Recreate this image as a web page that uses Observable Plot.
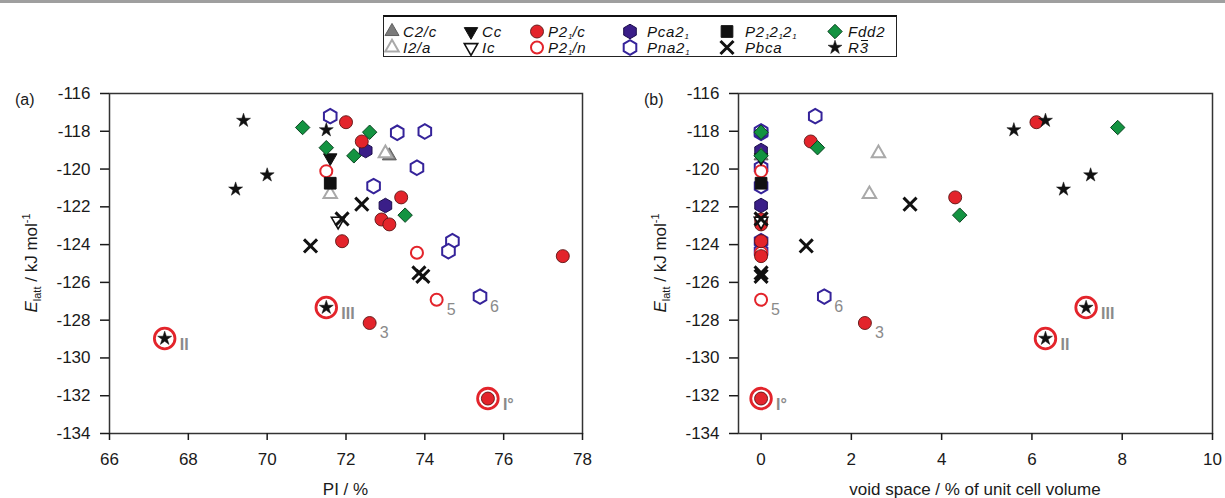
<!DOCTYPE html>
<html><head><meta charset="utf-8">
<script src="https://cdn.jsdelivr.net/npm/d3@7"></script>
<script src="https://cdn.jsdelivr.net/npm/@observablehq/plot@0.6"></script>
<style>
html,body{margin:0;padding:0;background:#fff;}
body{width:1225px;height:498px;position:relative;overflow:hidden;font-family:"Liberation Sans",Arial,sans-serif;}
#topbar{position:absolute;left:0;top:0;width:1225px;height:3px;background:#9f9f9f;}
#legendbox{position:absolute;left:383px;top:15px;width:514px;height:42px;border:1px solid #222;border-top:2px solid #111;box-sizing:border-box;}
.li{position:absolute;height:15px;line-height:15px;display:flex;align-items:center;font-style:italic;font-size:15px;color:#111;white-space:nowrap;letter-spacing:0.8px;}
.li svg{flex:none;overflow:visible;}
.li sub{font-size:8px;vertical-align:-2px;letter-spacing:0;line-height:0;}
.ob{position:relative;}
.ob .bar{position:absolute;left:1.5px;right:0.5px;top:1.5px;height:0;border-top:1.4px solid #111;}
#pa{position:absolute;left:0;top:63px;}
#pb{position:absolute;left:612px;top:63px;}
</style>
</head><body>
<div id="topbar"></div>
<div id="legendbox"></div>
<div id="legend"></div>
<div id="pa"></div>
<div id="pb"></div>
<script>
// ---------- data ----------
const legendGroups = ["C2/c","I2/a","Cc","Ic","P21/c","P21/n","Pca21","Pna21","P212121","Pbca","Fdd2","R-3"];
const legendLabels = ["C2/c","I2/a","Cc","Ic","P2<sub>1</sub>/c","P2<sub>1</sub>/n","Pca2<sub>1</sub>","Pna2<sub>1</sub>","P2<sub>1</sub>2<sub>1</sub>2<sub>1</sub>","Pbca","Fdd2","R<span class='ob'>3<span class='bar'></span></span>"];

const spaceGroup = ["R-3","R-3","R-3","R-3","R-3","R-3",
  "Fdd2","Fdd2","Fdd2","Fdd2","Fdd2",
  "Pna21","Pna21","Pna21","Pna21","Pna21","Pna21","Pna21","Pna21",
  "P21/c","P21/c","P21/c","P21/c","P21/c","P21/c","P21/c","P21/c","P21/c",
  "Pca21","Pca21","Cc","P212121","P21/n","P21/n","P21/n","Ic",
  "Pbca","Pbca","Pbca","Pbca","Pbca","C2/c","I2/a","I2/a"];
const packingIndex = [69.4,71.5,70.0,69.2,67.4,71.5,
  70.9,72.6,71.5,72.2,73.5,
  71.6,73.3,74.0,73.8,72.7,74.7,74.6,75.4,
  72.0,72.4,73.4,72.9,73.1,71.9,77.5,72.6,75.6,
  72.5,73.0,71.6,71.6,71.5,73.8,74.3,71.8,
  71.9,72.4,71.1,73.85,73.95,73.1,73.0,71.6];
const voidSpace = [6.3,5.6,7.3,6.7,6.3,7.2,
  7.9,0,1.25,0,4.4,
  1.2,0,0,0,0,0,0,1.4,
  6.1,1.1,4.3,0,0,0,0,2.3,0,
  0,0,0,0,0,0,0,0,
  0,3.3,1.0,0,0,0,2.6,2.4];
const latticeEnergy = [-117.43,-117.93,-120.32,-121.07,-128.97,-127.33,
  -117.8,-118.05,-118.87,-119.3,-122.44,
  -117.2,-118.08,-118.01,-119.93,-120.9,-123.82,-124.35,-126.75,
  -117.52,-118.54,-121.5,-122.67,-122.93,-123.82,-124.61,-128.15,-132.15,
  -119.02,-121.93,-119.4,-120.75,-120.11,-124.43,-126.92,-122.76,
  -122.64,-121.86,-124.07,-125.5,-125.68,-119.3,-119.17,-121.33];
const pointLabel = ["","","","","II","III",
  "","","","","",
  "","","","","","","","6",
  "","","","","","","","3","I°",
  "","","","","","","5","",
  "","","","","","","",""];
const ringedLabels = ["I°","II","III"];
const xTicksA = [66,68,70,72,74,76,78];
const xTicksB = [0,2,4,6,8,10];
const yTicks = [-134,-132,-130,-128,-126,-124,-122,-120,-118,-116];

// ---------- styles ----------
const sqrt3 = Math.sqrt(3);
const triangleDown = {draw(ctx, size){ const y = Math.sqrt(size/(sqrt3*3)); ctx.moveTo(0, 2*y); ctx.lineTo(-sqrt3*y, -y); ctx.lineTo(sqrt3*y, -y); ctx.closePath(); }};
const hexagon = {draw(ctx, size){ const rx = Math.sqrt(size/Math.PI), ry = rx*2/sqrt3, hy = ry/2;
  ctx.moveTo(0, ry); ctx.lineTo(rx, hy); ctx.lineTo(rx, -hy); ctx.lineTo(0, -ry); ctx.lineTo(-rx, -hy); ctx.lineTo(-rx, hy); ctx.closePath(); }};
const RED = "#e3242b";
const groupStyle = {
  "C2/c":   {symbol:d3.symbolTriangle, r:5.2, fill:"#7b7b7b", stroke:"#5e5e5e", strokeWidth:1},
  "I2/a":   {symbol:d3.symbolTriangle, r:5.0, fill:"white", stroke:"#a9a9a9", strokeWidth:2},
  "Cc":     {symbol:triangleDown, r:5.0, fill:"#111", stroke:"#111", strokeWidth:1},
  "Ic":     {symbol:triangleDown, r:5.0, fill:"white", stroke:"#111", strokeWidth:1.6},
  "P21/c":  {symbol:d3.symbolCircle, r:6.5, fill:RED, stroke:"#5c1414", strokeWidth:0.9},
  "P21/n":  {symbol:d3.symbolCircle, r:6.0, fill:"white", stroke:RED, strokeWidth:2},
  "Pca21":  {symbol:hexagon, r:6.3, fill:"#3a1e88", stroke:"#1d0f4d", strokeWidth:1},
  "Pna21":  {symbol:hexagon, r:6.3, fill:"white", stroke:"#35239a", strokeWidth:2},
  "P212121":{symbol:d3.symbolSquare, r:6.6, fill:"#111", stroke:"#111", strokeWidth:1},
  "Pbca":   {symbol:d3.symbolX, r:6.0, fill:"none", stroke:"#111", strokeWidth:3},
  "Fdd2":   {symbol:d3.symbolDiamond2, r:6.5, fill:"#139341", stroke:"#0b4522", strokeWidth:1},
  "R-3":    {symbol:d3.symbolStar, r:4.4, fill:"#111", stroke:"#111", strokeWidth:0.5}
};
const drawOrder = ["Pna21","Pca21","P21/n","P21/c","C2/c","I2/a","Ic","Cc","P212121","Fdd2","Pbca","R-3"];

const data = spaceGroup.map((g, i) => ({group: g, pi: packingIndex[i], vs: voidSpace[i], e: latticeEnergy[i], label: pointLabel[i]}));

// ---------- legend ----------
const legendCols = [392, 471, 537, 630, 727, 835];
const legendTextGap = [3, 3, 3, 9, 10, 5];
const legendRows = [31, 47];
const legendOrder = [["C2/c","I2/a"],["Cc","Ic"],["P21/c","P21/n"],["Pca21","Pna21"],["P212121","Pbca"],["Fdd2","R-3"]];
const legendDiv = d3.select("#legend");
legendOrder.forEach((pair, c) => pair.forEach((g, r) => {
  const st = groupStyle[g];
  const item = legendDiv.append("div").attr("class","li")
    .style("left", (legendCols[c]-8)+"px").style("top", (legendRows[r]-7.5)+"px");
  const svg = item.append("svg").attr("width",16).attr("height",15);
  svg.append("path").attr("transform","translate(8,7.5)")
    .attr("d", d3.symbol(st.symbol, st.r*st.r*Math.PI)())
    .attr("fill", st.fill).attr("stroke", st.stroke).attr("stroke-width", st.strokeWidth);
  item.append("span").style("margin-left", legendTextGap[c]+"px").html(legendLabels[legendGroups.indexOf(g)]);
}));

// ---------- panels ----------
function panel(xKey, xDomain, xTicks, width, mLeft, mRight, tag, xLabel) {
  const marks = [
    Plot.frame({stroke:"#333", strokeWidth:1.5}),
    Plot.axisX({ticks:xTicks, tickSize:7, tickPadding:12, tickFormat:d=>String(d), label:null, strokeWidth:1.5}),
    Plot.axisY({ticks:yTicks, tickSize:9, tickPadding:10, tickFormat:d=>String(d), label:null, strokeWidth:1.5}),
    Plot.dot(data.filter(d => ringedLabels.includes(d.label)), {x:xKey, y:"e", r:10.3, fill:"white", stroke:RED, strokeWidth:2.8})
  ];
  for (const g of drawOrder) {
    const st = groupStyle[g];
    marks.push(Plot.dot(data.filter(d => d.group === g), {x:xKey, y:"e", symbol:st.symbol, r:st.r, fill:st.fill, stroke:st.stroke, strokeWidth:st.strokeWidth}));
  }
  marks.push(Plot.text(data.filter(d => ringedLabels.includes(d.label)), {x:xKey, y:"e", text:"label", dx:15, dy:6, textAnchor:"start", fill:"#8a8a8a", fontWeight:"bold", fontSize:16}));
  marks.push(Plot.text(data.filter(d => d.label && !ringedLabels.includes(d.label)), {x:xKey, y:"e", text:"label", dx:10, dy:10, textAnchor:"start", fill:"#8a8a8a", fontSize:16}));
  const chart = Plot.plot({
    width, height:435, marginLeft:mLeft, marginRight:mRight, marginTop:30, marginBottom:65,
    x:{domain:xDomain}, y:{domain:[-134,-116]},
    style:{background:"transparent", fontFamily:"'Liberation Sans', Arial, sans-serif", fontSize:"17px", color:"#1a1a1a", overflow:"visible"},
    marks
  });
  const svg = d3.select(chart);
  svg.append("text").attr("x", mLeft-94).attr("y", 42).attr("text-anchor","start").attr("font-size", 16).attr("fill","#1a1a1a").text(tag);
  const yl = svg.append("text").attr("transform", `translate(${mLeft-72},200) rotate(-90)`).attr("text-anchor","middle").attr("font-size",17).attr("fill","#1a1a1a");
  yl.append("tspan").attr("font-style","italic").text("E");
  yl.append("tspan").attr("font-size",11).attr("dy",4).text("latt");
  yl.append("tspan").attr("dy",-4).text(" / kJ mol");
  yl.append("tspan").attr("font-size",11).attr("dy",-7).text("-1");
  svg.append("text").attr("x", (mLeft + width - mRight)/2).attr("y", 432).attr("text-anchor","middle").attr("font-size",17).attr("fill","#1a1a1a").text(xLabel);
  return chart;
}
document.getElementById("pa").append(panel("pi", [66,78], xTicksA, 612, 109, 30, "(a)", "PI / %"));
document.getElementById("pb").append(panel("vs", [-0.5,10], xTicksB, 613, 126, 13, "(b)", "void space / % of unit cell volume"));
</script>
</body></html>
